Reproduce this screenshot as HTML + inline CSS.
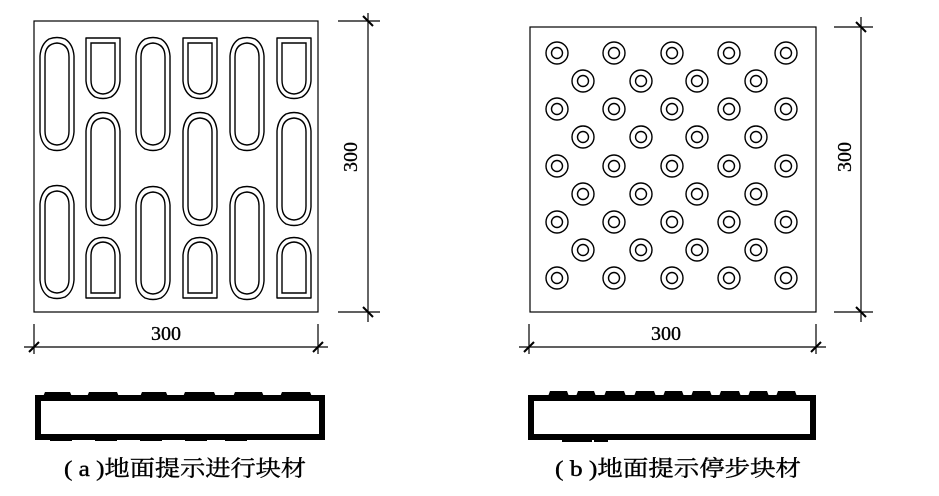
<!DOCTYPE html>
<html><head><meta charset="utf-8"><style>
html,body{margin:0;padding:0;background:#fff;}
svg{display:block;}
text{font-family:"Liberation Serif","Noto Serif CJK SC",serif;fill:#000;}
</style></head><body>
<svg width="939" height="496" viewBox="0 0 939 496" xmlns="http://www.w3.org/2000/svg">
<defs>
<g id="pl">
<path d="M-17,-38 Q-16,-50 -8,-55 Q0,-58 8,-55 Q16,-50 17,-38 L17,38 Q16,50 8,55 Q0,58 -8,55 Q-16,50 -17,38 Z" fill="none" stroke="#000" stroke-width="1.4" stroke-linejoin="round"/>
<path d="M-12,-37 Q-12,-50 0,-51 Q12,-50 12,-37 L12,37 Q12,50 0,51 Q-12,50 -12,37 Z" fill="none" stroke="#000" stroke-width="1.4"/>
</g>
<g id="sd">
<path d="M-17,-30 L17,-30 L17,13 Q16,24 8,29 Q0,32 -8,29 Q-16,24 -17,13 Z" fill="none" stroke="#000" stroke-width="1.4" stroke-linejoin="round"/>
<path d="M-12,-25 L12,-25 L12,12 Q12,25 0,26 Q-12,25 -12,12 Z" fill="none" stroke="#000" stroke-width="1.4"/>
</g>
<g id="dot"><circle r="11" fill="none" stroke="#000" stroke-width="1.4"/><circle r="5.5" fill="none" stroke="#000" stroke-width="1.4"/></g>
</defs>

<rect x="34" y="21" width="284" height="291" fill="none" stroke="#000" stroke-width="1.2"/>
<use href="#pl" x="57" y="94"/><use href="#pl" x="57" y="242"/>
<use href="#sd" x="103" y="68"/><use href="#pl" x="103" y="169"/><use href="#sd" x="103" y="268" transform="rotate(180 103 268)"/>
<use href="#pl" x="153" y="94"/><use href="#pl" x="153" y="243"/>
<use href="#sd" x="200" y="68"/><use href="#pl" x="200" y="169"/><use href="#sd" x="200" y="268" transform="rotate(180 200 268)"/>
<use href="#pl" x="247" y="94"/><use href="#pl" x="247" y="243"/>
<use href="#sd" x="294" y="68"/><use href="#pl" x="294" y="169"/><use href="#sd" x="294" y="268" transform="rotate(180 294 268)"/>

<g stroke="#000" stroke-width="1.2">
<line x1="338" y1="21" x2="380" y2="21"/><line x1="338" y1="312" x2="380" y2="312"/>
<line x1="368" y1="13" x2="368" y2="322"/>
<line x1="363" y1="16" x2="373" y2="26" stroke-width="2"/><line x1="363" y1="307" x2="373" y2="317" stroke-width="2"/>
<line x1="34" y1="324" x2="34" y2="354"/><line x1="318" y1="324" x2="318" y2="354"/>
<line x1="24" y1="347" x2="328" y2="347"/>
<line x1="29" y1="352" x2="39" y2="342" stroke-width="2"/><line x1="313" y1="352" x2="323" y2="342" stroke-width="2"/>
</g>
<text x="166" y="340" font-size="20" text-anchor="middle" stroke="#000" stroke-width="0.3">300</text>
<text x="0" y="0" font-size="20" text-anchor="middle" stroke="#000" stroke-width="0.3" transform="translate(357,157) rotate(-90)">300</text>

<rect x="530" y="27" width="286" height="285" fill="none" stroke="#000" stroke-width="1.2"/>
<g>
<use href="#dot" x="557" y="53"/><use href="#dot" x="614" y="53"/><use href="#dot" x="672" y="53"/><use href="#dot" x="729" y="53"/><use href="#dot" x="786" y="53"/>
<use href="#dot" x="583" y="81"/><use href="#dot" x="641" y="81"/><use href="#dot" x="697" y="81"/><use href="#dot" x="756" y="81"/>
<use href="#dot" x="557" y="109"/><use href="#dot" x="614" y="109"/><use href="#dot" x="672" y="109"/><use href="#dot" x="729" y="109"/><use href="#dot" x="786" y="109"/>
<use href="#dot" x="583" y="137"/><use href="#dot" x="641" y="137"/><use href="#dot" x="697" y="137"/><use href="#dot" x="756" y="137"/>
<use href="#dot" x="557" y="166"/><use href="#dot" x="614" y="166"/><use href="#dot" x="672" y="166"/><use href="#dot" x="729" y="166"/><use href="#dot" x="786" y="166"/>
<use href="#dot" x="583" y="194"/><use href="#dot" x="641" y="194"/><use href="#dot" x="697" y="194"/><use href="#dot" x="756" y="194"/>
<use href="#dot" x="557" y="222"/><use href="#dot" x="614" y="222"/><use href="#dot" x="672" y="222"/><use href="#dot" x="729" y="222"/><use href="#dot" x="786" y="222"/>
<use href="#dot" x="583" y="250"/><use href="#dot" x="641" y="250"/><use href="#dot" x="697" y="250"/><use href="#dot" x="756" y="250"/>
<use href="#dot" x="557" y="278"/><use href="#dot" x="614" y="278"/><use href="#dot" x="672" y="278"/><use href="#dot" x="729" y="278"/><use href="#dot" x="786" y="278"/>
</g>
<g stroke="#000" stroke-width="1.2">
<line x1="834" y1="27" x2="873" y2="27"/><line x1="834" y1="312" x2="873" y2="312"/>
<line x1="861" y1="17" x2="861" y2="322"/>
<line x1="856" y1="22" x2="866" y2="32" stroke-width="2"/><line x1="856" y1="307" x2="866" y2="317" stroke-width="2"/>
<line x1="529" y1="324" x2="529" y2="354"/><line x1="816" y1="324" x2="816" y2="354"/>
<line x1="519" y1="347" x2="826" y2="347"/>
<line x1="524" y1="352" x2="534" y2="342" stroke-width="2"/><line x1="811" y1="352" x2="821" y2="342" stroke-width="2"/>
</g>
<text x="666" y="340" font-size="20" text-anchor="middle" stroke="#000" stroke-width="0.3">300</text>
<text x="0" y="0" font-size="20" text-anchor="middle" stroke="#000" stroke-width="0.3" transform="translate(851,157) rotate(-90)">300</text>

<rect x="38" y="398" width="284" height="39" fill="none" stroke="#000" stroke-width="6"/>
<g fill="#000">
<path d="M42,399 L45,392 L70,392 L73,399 Z"/><path d="M86,399 L89,392 L117,392 L120,399 Z"/>
<path d="M139,399 L142,392 L166,392 L169,399 Z"/><path d="M182,399 L185,392 L214,392 L217,399 Z"/>
<path d="M232,399 L235,392 L262,392 L265,399 Z"/><path d="M279,399 L282,392 L310,392 L313,399 Z"/>
<rect x="50" y="438" width="22" height="3"/><rect x="95" y="438" width="22" height="3"/><rect x="140" y="438" width="22" height="3"/>
<rect x="185" y="438" width="22" height="3"/><rect x="225" y="438" width="22" height="3"/>
</g>
<rect x="531" y="398" width="282" height="39" fill="none" stroke="#000" stroke-width="6"/>
<g fill="#000">
<path d="M547,399 L550,391 L567,391 L570,399 Z"/><path d="M575,399 L578,391 L594,391 L597,399 Z"/>
<path d="M603,399 L606,391 L624,391 L627,399 Z"/><path d="M633,399 L636,391 L654,391 L657,399 Z"/>
<path d="M662,399 L665,391 L682,391 L685,399 Z"/><path d="M690,399 L693,391 L710,391 L713,399 Z"/>
<path d="M718,399 L721,391 L739,391 L742,399 Z"/><path d="M747,399 L750,391 L767,391 L770,399 Z"/>
<path d="M775,399 L778,391 L795,391 L798,399 Z"/>
<rect x="562" y="434" width="30" height="8"/><rect x="594" y="434" width="14" height="8"/><rect x="625" y="434" width="14" height="5"/>
<rect x="660" y="434" width="16" height="5"/><rect x="725" y="434" width="30" height="5"/><rect x="785" y="434" width="26" height="5"/>
</g>

<text x="64" y="476" font-size="22" textLength="242" lengthAdjust="spacingAndGlyphs" stroke="#000" stroke-width="0.4">( a )地面提示进行块材</text>
<text x="555" y="476" font-size="22" textLength="246" lengthAdjust="spacingAndGlyphs" stroke="#000" stroke-width="0.4">( b )地面提示停步块材</text>
</svg>
</body></html>
